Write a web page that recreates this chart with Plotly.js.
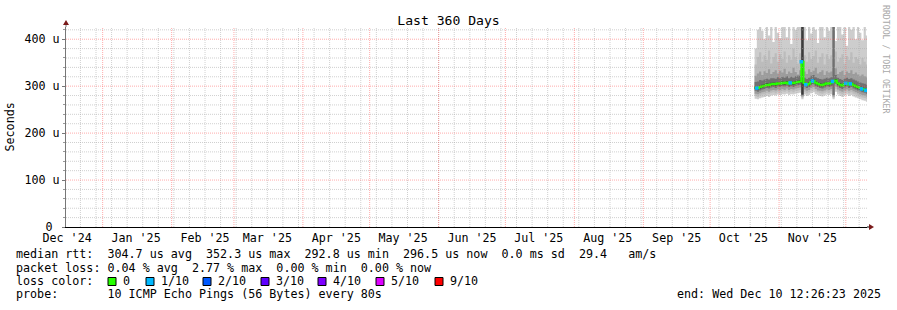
<!DOCTYPE html>
<html><head><meta charset="utf-8">
<script src="https://cdn.plot.ly/plotly-3.0.1.min.js"></script>
<style>html,body{margin:0;padding:0;background:#fff;overflow:hidden}#chart{width:897px;height:310px}</style>
</head><body><div id="chart"></div>
<script>
// ---------- data ----------
const days = ['2025-10-21','2025-10-22','2025-10-23','2025-10-24','2025-10-25','2025-10-26','2025-10-27','2025-10-28','2025-10-29','2025-10-30','2025-10-31',
'2025-11-01','2025-11-02','2025-11-03','2025-11-04','2025-11-05','2025-11-06','2025-11-07','2025-11-08','2025-11-09','2025-11-10',
'2025-11-11','2025-11-12','2025-11-13','2025-11-14','2025-11-15','2025-11-16','2025-11-17','2025-11-18','2025-11-19','2025-11-20',
'2025-11-21','2025-11-22','2025-11-23','2025-11-24','2025-11-25','2025-11-26','2025-11-27','2025-11-28','2025-11-29','2025-11-30',
'2025-12-01','2025-12-02','2025-12-03','2025-12-04','2025-12-05','2025-12-06','2025-12-07','2025-12-08','2025-12-09','2025-12-10','2025-12-10 12:26:23'];
// median rtt in microseconds
const median = [297,296,298,300,301,303,302,304,305,304, 306,305,307,306,308,305,307,306,308,309, 310,352,306,303,305,309,311,307,305,303, 302,304,306,305,307,310,312,306,303,301, 304,306,303,305,302,300,298,296,294,293, 291,292];
// lost pings out of 10
const loss = [0,1,0,0,0,0,0,0,0,0, 0,0,0,0,0,0,1,0,0,0, 0,1,0,1,0,0,1,0,0,0, 0,0,0,0,0,1,0,0,0,0, 0,1,0,1,0,0,0,0,1,0, 1,0];
// sorted pings (smoke), microseconds
const p10 = [380,420,426,418,400,426,408,426,394,426, 414,402,426,426,404,426,390,426,420,426, 426,426,426,398,426,412,426,420,392,426, 426,404,426,418,426,426,396,426,426,410, 426,386,426,420,426,400,426,414,398,426, 408,404];
const p9 = [346,362,372,352,366,356,376,348,362,370, 352,368,358,374,350,366,356,380,362,348, 370,426,366,352,372,358,364,376,350,362, 370,346,368,358,366,426,374,352,360,368, 348,364,356,372,350,362,358,346,360,352, 346,348];
const p8 = [322,327,331,324,332,328,336,326,330,334, 327,333,329,337,326,331,328,339,330,325, 334,426,331,326,336,330,333,339,327,330, 334,324,332,329,331,426,338,326,330,333, 324,331,328,334,326,329,325,322,325,321, 319,320];
const p7 = [309,310,313,312,314,316,314,317,317,316, 319,317,320,318,321,317,320,318,321,322, 322,426,318,315,318,322,324,319,317,315, 314,316,318,317,319,426,324,318,315,313, 316,318,315,317,314,312,310,308,306,305, 303,304];
const p6 = [300,299,301,303,304,306,305,307,308,307, 309,308,310,309,311,308,310,309,311,312, 313,426,309,306,308,312,314,310,308,306, 305,307,309,308,310,313,315,309,306,304, 307,309,306,308,305,303,301,299,297,296, 294,295];
const p5 = [294,293,295,297,298,300,299,301,302,301, 303,302,304,303,305,302,304,303,305,306, 307,282,303,300,302,306,308,304,302,300, 299,301,303,302,304,307,309,303,300,298, 301,303,300,302,299,297,295,293,291,290, 288,289];
const p4 = [290,288,291,293,294,296,295,297,298,296, 299,298,300,299,301,298,300,298,301,302, 303,280,299,296,298,302,304,300,298,296, 295,297,299,298,300,281,305,299,296,294, 297,299,296,298,295,293,291,289,287,286, 284,285];
const p3 = [284,283,285,287,288,290,288,291,292,291, 293,292,294,292,295,292,294,293,295,296, 297,278,293,290,292,296,298,294,291,290, 289,291,293,292,294,278,299,293,290,288, 291,293,290,292,289,287,285,283,281,280, 278,279];
const p2 = [279,277,280,282,283,285,284,286,287,285, 288,287,289,288,290,287,289,287,290,291, 292,276,288,285,287,291,293,289,287,285, 284,286,288,286,289,276,294,288,285,283, 286,288,285,287,284,282,280,278,276,275, 273,274];
const p1 = [273,272,274,276,277,279,277,280,281,280, 282,281,283,282,284,281,283,282,284,285, 286,272,282,279,281,285,287,283,281,279, 278,280,282,281,283,272,288,282,279,277, 280,282,279,281,278,276,274,272,270,269, 267,268];

// axis ticks / labels
const xStart = '2024-12-15 12:26:23', xEnd = '2025-12-10 12:26:23';
const monthStarts = ['2025-01-01','2025-02-01','2025-03-01','2025-04-01','2025-05-01','2025-06-01','2025-07-01','2025-08-01','2025-09-01','2025-10-01','2025-11-01','2025-12-01'];
const monthLabelDates = ['2024-12-16','2025-01-16','2025-02-16','2025-03-16','2025-04-16','2025-05-16','2025-06-16','2025-07-16','2025-08-16','2025-09-16','2025-10-16','2025-11-16'];
const monthLabels = ["Dec '24","Jan '25","Feb '25","Mar '25","Apr '25","May '25","Jun '25","Jul '25","Aug '25","Sep '25","Oct '25","Nov '25"];
const yTickVals = [0,100,200,300,400];
const yTickText = ['0\u00a0','100 u','200 u','300 u','400 u'];

// legend / stats text
const rttStats = ['304.7','352.3','292.8','296.5'];
const lossStats = ['0.04','2.77','0.00','0.00'];
const lossLabels = ['0','1/10','2/10','3/10','4/10','5/10','9/10'];
const lossColors = ['#26ff00','#00b8ff','#0059ff','#5e00ff','#7e00ff','#dd00ff','#ff0000'];
const smokeColors = ['#cdcdcd','#bcbcbc','#9c9c9c','#707070','#3c3c3c'];

// ---------- layout helpers ----------
const L = 66, T = 27, W = 801, H = 200;
const px = x => (x - L) / W;
const py = y => (T + H - y) / H;
const FONT = 'DejaVu Sans Mono';
const FS = 11.7;
const nb = s => s.replace(/ /g, '\u00a0');

// ---------- traces ----------
const traces = [];
const layers = [[p1,p10],[p2,p9],[p3,p8],[p4,p7],[p5,p6]];
layers.forEach((pr, i) => {
  traces.push({x: days, y: pr[0], type: 'scatter', mode: 'lines', line: {width: 0, shape: 'hv'}, hoverinfo: 'skip', showlegend: false});
  traces.push({x: days, y: pr[1], type: 'scatter', mode: 'lines', line: {width: 0, shape: 'hv'}, fill: 'tonexty', fillcolor: smokeColors[i], hoverinfo: 'skip', showlegend: false});
});
traces.push({x: days, y: median, type: 'scatter', mode: 'lines', line: {width: 2, shape: 'hv', color: lossColors[0]}, hoverinfo: 'skip', showlegend: false});
traces.push({x: days, y: median.map((v, i) => loss[i] >= 1 ? v : null), type: 'scatter', mode: 'markers',
  marker: {symbol: 'square', size: 3.5, color: lossColors[1], line: {width: 0}}, hoverinfo: 'skip', showlegend: false});

// ---------- grid (drawn above the smoke, like rrdtool) ----------
const shapes = [];
const minorCol = 'rgba(170,170,170,0.55)', majorCol = 'rgba(255,90,90,0.5)';
const DASH = '1px,1px';
const endMs = Date.parse('2025-12-10T12:26:23Z');
for (let t = Date.parse('2024-12-22T00:00:00Z'); t < endMs; t += 7 * 86400000) {
  const d = new Date(t).toISOString().slice(0, 10);
  shapes.push({type: 'line', xref: 'x', yref: 'paper', x0: d, x1: d, y0: 0, y1: 1, layer: 'above', line: {color: minorCol, width: 1, dash: DASH}});
}
for (let v = 20; v <= 420; v += 20) {
  if (v % 100 === 0) continue;
  shapes.push({type: 'line', xref: 'paper', yref: 'y', x0: 0, x1: 1, y0: v, y1: v, layer: 'above', line: {color: minorCol, width: 1, dash: DASH}});
}
monthStarts.forEach(d => shapes.push({type: 'line', xref: 'x', yref: 'paper', x0: d, x1: d, y0: 0, y1: 1, layer: 'above', line: {color: majorCol, width: 1, dash: DASH}}));
yTickVals.filter(v => v > 0).forEach(v => shapes.push({type: 'line', xref: 'paper', yref: 'y', x0: 0, x1: 1, y0: v, y1: v, layer: 'above', line: {color: majorCol, width: 1, dash: DASH}}));

// axis extensions and arrows
shapes.push({type: 'line', xref: 'paper', yref: 'paper', xsizemode: 'pixel', xanchor: 1, x0: 0, x1: 4, y0: 0, y1: 0, layer: 'above', line: {color: '#000', width: 1}});
shapes.push({type: 'path', xref: 'paper', yref: 'paper', xsizemode: 'pixel', ysizemode: 'pixel', xanchor: 1, yanchor: 0, path: 'M 2,-3 L 7,0 L 2,3 Z', fillcolor: '#7a1a1a', line: {width: 0}, layer: 'above'});
shapes.push({type: 'line', xref: 'paper', yref: 'paper', ysizemode: 'pixel', yanchor: 1, x0: 0, x1: 0, y0: 0, y1: 3, layer: 'above', line: {color: '#777', width: 1}});
shapes.push({type: 'path', xref: 'paper', yref: 'paper', xsizemode: 'pixel', ysizemode: 'pixel', xanchor: 0, yanchor: 1, path: 'M -3,2 L 0,7 L 3,2 Z', fillcolor: '#7a1a1a', line: {width: 0}, layer: 'above'});

// legend squares
const sqX = [108,146,203,261,318,376,435];
lossColors.forEach((c, i) => shapes.push({type: 'rect', xref: 'paper', yref: 'paper', x0: px(sqX[i]), x1: px(sqX[i] + 8), y0: py(285.5), y1: py(277.5), fillcolor: c, line: {color: '#000', width: 1}}));

// ---------- annotations ----------
const ann = [];
const txt = (s, x, y, opts = {}) => ann.push(Object.assign({text: nb(s), xref: 'paper', yref: 'paper', x: px(x), y: py(y), xanchor: 'left', yanchor: 'middle', showarrow: false, borderpad: 0, borderwidth: 0, font: {family: FONT, size: FS, color: '#000'}}, opts));
const rowY = [254.3, 267.6, 281, 294.3];
txt('median rtt:  ' + rttStats[0] + ' us avg  ' + rttStats[1] + ' us max  ' + rttStats[2] + ' us min  ' + rttStats[3] + ' us now  0.0 ms sd  29.4   am/s', 16, rowY[0]);
txt('packet loss: ' + lossStats[0] + ' % avg  ' + lossStats[1] + ' % max  ' + lossStats[2] + ' % min  ' + lossStats[3] + ' % now', 16, rowY[1]);
txt('loss color:', 16, rowY[2]);
lossLabels.forEach((s, i) => txt(s, sqX[i] + 15, rowY[2]));
txt('probe:       10 ICMP Echo Pings (56 Bytes) every 80s', 16, rowY[3]);
txt('end: Wed Dec 10 12:26:23 2025', 881, rowY[3], {xanchor: 'right'});
txt('Seconds', 10, 127.5, {xanchor: 'center', textangle: -90});
txt('RRDTOOL / TOBI OETIKER', 886, 59, {xanchor: 'center', textangle: 90, font: {family: FONT, size: 8.2, color: '#a8a8a8'}});

const layout = {
  width: 897, height: 310,
  margin: {l: L, r: 897 - L - W, t: T, b: 310 - T - H, pad: 0},
  paper_bgcolor: '#fff', plot_bgcolor: '#fff',
  showlegend: false, hovermode: false,
  title: {text: 'Last 360 Days', x: 0.5, xref: 'container', xanchor: 'center', y: 1 - 20 / 310, yref: 'container', yanchor: 'middle', font: {family: FONT, size: 13.1, color: '#000'}},
  xaxis: {type: 'date', range: [xStart, xEnd], tickmode: 'array', tickvals: monthLabelDates, ticktext: monthLabels,
    showgrid: false, zeroline: false, showline: true, linecolor: '#000', linewidth: 1, ticks: '',
    tickfont: {family: FONT, size: FS, color: '#000'}, fixedrange: true},
  yaxis: {range: [0, 426], tickmode: 'array', tickvals: yTickVals, ticktext: yTickText, showgrid: false, zeroline: false,
    showline: true, linecolor: '#777', linewidth: 1, ticks: 'outside', ticklen: 3, tickcolor: '#777',
    minor: {ticks: 'outside', ticklen: 2, dtick: 20, tick0: 0, tickcolor: '#999', showgrid: false},
    tickfont: {family: FONT, size: FS, color: '#000'}, fixedrange: true},
  shapes: shapes,
  annotations: ann
};
Plotly.newPlot('chart', traces, layout, {staticPlot: true, displayModeBar: false});
</script>
</body></html>
